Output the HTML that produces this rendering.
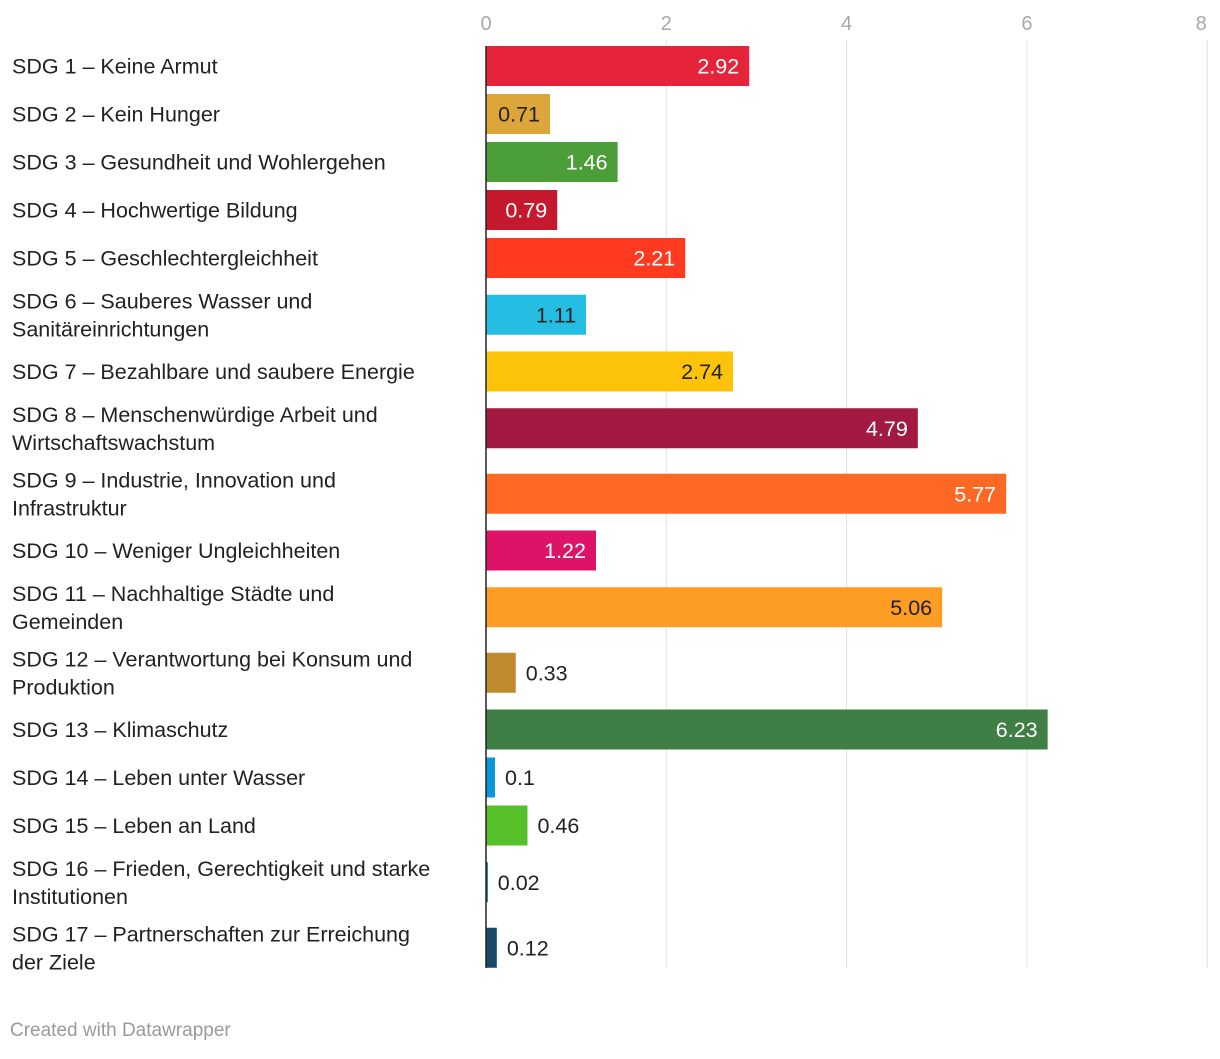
<!DOCTYPE html>
<html><head><meta charset="utf-8"><style>
body{margin:0;background:#fff;width:1220px;height:1054px;overflow:hidden;font-family:"Liberation Sans",Arial,sans-serif;}
svg text{font-family:"Liberation Sans",Arial,sans-serif;}
</style></head><body>
<svg id="chart" width="1220" height="1054" xmlns="http://www.w3.org/2000/svg"></svg>
<script>
const labels=[["SDG 1 – Keine Armut"],["SDG 2 – Kein Hunger"],["SDG 3 – Gesundheit und Wohlergehen"],["SDG 4 – Hochwertige Bildung"],["SDG 5 – Geschlechtergleichheit"],["SDG 6 – Sauberes Wasser und","Sanitäreinrichtungen"],["SDG 7 – Bezahlbare und saubere Energie"],["SDG 8 – Menschenwürdige Arbeit und","Wirtschaftswachstum"],["SDG 9 – Industrie, Innovation und","Infrastruktur"],["SDG 10 – Weniger Ungleichheiten"],["SDG 11 – Nachhaltige Städte und","Gemeinden"],["SDG 12 – Verantwortung bei Konsum und","Produktion"],["SDG 13 – Klimaschutz"],["SDG 14 – Leben unter Wasser"],["SDG 15 – Leben an Land"],["SDG 16 – Frieden, Gerechtigkeit und starke","Institutionen"],["SDG 17 – Partnerschaften zur Erreichung","der Ziele"]];
const values=[2.92,0.71,1.46,0.79,2.21,1.11,2.74,4.79,5.77,1.22,5.06,0.33,6.23,0.1,0.46,0.02,0.12];
const valueLabels=["2.92","0.71","1.46","0.79","2.21","1.11","2.74","4.79","5.77","1.22","5.06","0.33","6.23","0.1","0.46","0.02","0.12"];
const colors=["#e5243b","#dda63a","#4c9f38","#c5192d","#ff3a21","#26bde2","#fcc30b","#a21942","#fd6925","#dd1367","#fd9d24","#bf8b2e","#3f7e44","#0a97d9","#56c02b","#00689d","#19486a"];
const darkText=[false,true,false,false,false,true,true,false,false,false,true,true,false,true,true,true,true];
const ticks=[0,2,4,6,8];
const NS="http://www.w3.org/2000/svg";
const svgEl=document.getElementById('chart');
const x0=486, pxPerUnit=90.15;
const xScale=v=>x0+v*pxPerUnit;
function mk(t,a,txt){const e=document.createElementNS(NS,t);for(const k in a)e.setAttribute(k,a[k]);if(txt!==undefined)e.textContent=txt;svgEl.appendChild(e);return e;}
ticks.forEach((t,i)=>{
  if(t>0){const g=mk('line',{x1:xScale(t),x2:xScale(t),y1:40,y2:968,stroke:'#e2e2e2','stroke-width':1});
  
  }
  const tl=mk('text',{x:i===ticks.length-1?xScale(t)-6:xScale(t),y:30,'font-size':20,fill:'#a8a8a8','text-anchor':'middle'},String(t));
  
  
});
let rowTop=42;
labels.forEach((lab,i)=>{
  const h=lab.length>1?65.5:48;
  const cy=rowTop+h/2;
  const lh=lab.length>1?28:0;
  lab.forEach((ln,j)=>{
    const t=mk('text',{x:12,y:cy+7.5+(j-(lab.length-1)/2)*lh,'font-size':21.5,fill:'#222'},ln);
    
    
  });
  const w=Math.max(xScale(values[i])-x0,1.5);
  const r=mk('rect',{x:x0,y:cy-20,width:w,height:40,fill:colors[i]});
  
  
  const inside=w>60;
  const vt=mk('text',{x:inside?xScale(values[i])-10:xScale(values[i])+10,y:cy+7.5,'font-size':21.5,'text-anchor':inside?'end':'start',fill:(inside&&!darkText[i])?'#fff':'#222'},valueLabels[i]);
  
  
  rowTop+=h;
});
const ax=mk('line',{x1:x0,x2:x0,y1:46,y2:968,stroke:'#222','stroke-width':1.5});


const f=mk('text',{x:10,y:1036,'font-size':19,fill:'#9a9a9a'},'Created with Datawrapper');


</script>
</body></html>
